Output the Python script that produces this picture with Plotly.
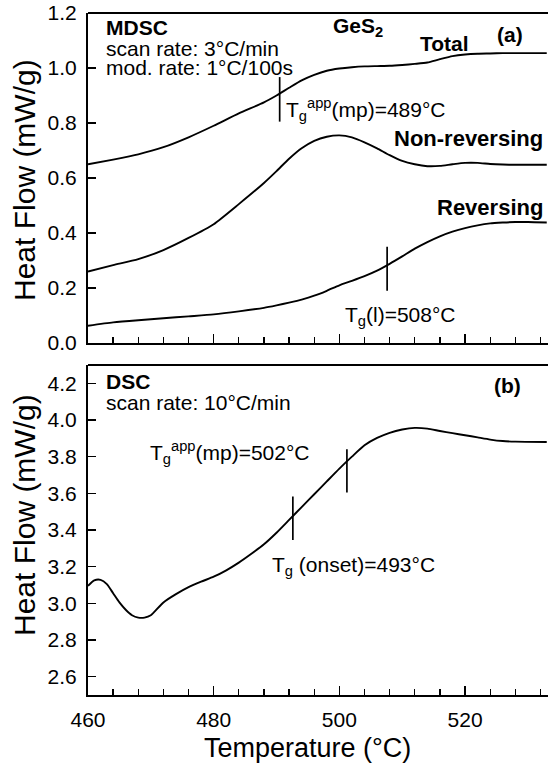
import plotly.graph_objects as go

# ---------------- data ----------------
t_top = [460, 464, 468, 472, 476, 480, 484, 488, 490, 492, 494, 496, 498, 500, 502, 504,
         506, 508, 510, 512, 514, 516, 518, 520, 522, 524, 526, 528, 530, 533]
total = [0.650, 0.667, 0.686, 0.712, 0.748, 0.790, 0.835, 0.875, 0.900, 0.928, 0.955, 0.975,
         0.990, 0.998, 1.003, 1.006, 1.007, 1.008, 1.011, 1.015, 1.020, 1.032, 1.043, 1.049,
         1.052, 1.053, 1.054, 1.054, 1.054, 1.054]
nonrev = [0.260, 0.283, 0.305, 0.338, 0.382, 0.432, 0.505, 0.582, 0.625, 0.670, 0.708, 0.735,
          0.750, 0.755, 0.748, 0.730, 0.708, 0.683, 0.662, 0.650, 0.643, 0.644, 0.650, 0.655,
          0.655, 0.651, 0.649, 0.648, 0.648, 0.648]
revers = [0.063, 0.075, 0.083, 0.090, 0.097, 0.104, 0.115, 0.128, 0.137, 0.147, 0.158, 0.172,
          0.190, 0.210, 0.226, 0.243, 0.263, 0.288, 0.315, 0.343, 0.367, 0.388, 0.405, 0.418,
          0.428, 0.435, 0.438, 0.440, 0.440, 0.438]

t_dsc = [460, 461, 462, 463, 464, 465, 466, 467, 468, 469, 470, 472, 474, 476, 478, 480, 482,
         484, 486, 488, 490, 492, 494, 496, 498, 500, 502, 504, 506, 508, 510, 512, 514, 516,
         518, 520, 522, 524, 526, 528, 533]
dsc = [3.095, 3.125, 3.128, 3.105, 3.055, 3.005, 2.965, 2.935, 2.922, 2.922, 2.935, 3.005,
       3.050, 3.088, 3.118, 3.145, 3.180, 3.222, 3.270, 3.322, 3.385, 3.455, 3.525, 3.595,
       3.665, 3.735, 3.800, 3.862, 3.902, 3.930, 3.948, 3.957, 3.953, 3.940, 3.928, 3.917,
       3.905, 3.893, 3.885, 3.882, 3.880]

# Tg marker bars: (temperature, low, high)
marks_top = [(490.5, 0.805, 0.967), (507.6, 0.190, 0.350)]
marks_bot = [(492.6, 3.345, 3.582), (501.2, 3.604, 3.840)]

x_ticks = [460, 480, 500, 520]
FONT = "Liberation Sans, Arial, Helvetica, sans-serif"
TXT = 21

fig = go.Figure()
line = dict(color="black", width=1.9, shape="spline", smoothing=0.6)
for ys in (total, nonrev, revers):
    fig.add_trace(go.Scatter(x=t_top, y=ys, mode="lines", line=line, xaxis="x", yaxis="y",
                             showlegend=False, hoverinfo="skip"))
fig.add_trace(go.Scatter(x=t_dsc, y=dsc, mode="lines", line=line, xaxis="x2", yaxis="y2",
                         showlegend=False, hoverinfo="skip"))
for (t, lo, hi) in marks_top:
    fig.add_trace(go.Scatter(x=[t, t], y=[lo, hi], mode="lines", line=dict(color="black", width=1.7),
                             xaxis="x", yaxis="y", showlegend=False, hoverinfo="skip"))
for (t, lo, hi) in marks_bot:
    fig.add_trace(go.Scatter(x=[t, t], y=[lo, hi], mode="lines", line=dict(color="black", width=1.7),
                             xaxis="x2", yaxis="y2", showlegend=False, hoverinfo="skip"))

common_x = dict(range=[460, 533.2], tickmode="array", tickvals=x_ticks, ticks="inside", ticklen=9,
                tickwidth=1.6, tickcolor="black", showline=True, linewidth=2, linecolor="black",
                mirror=False, showgrid=False, zeroline=False, ticklabelstandoff=5,
                minor=dict(dtick=4, tick0=460, ticks="inside", ticklen=6, tickwidth=1.3,
                           tickcolor="black", showgrid=False),
                tickfont=dict(family=FONT, size=TXT, color="black"))
common_y = dict(dtick=0.2, ticks="inside", ticklen=8, tickwidth=1.6, tickcolor="black",
                showline=True, linewidth=2, linecolor="black", showgrid=False, zeroline=False,
                mirror=False, tickformat=".1f", ticklabelstandoff=5, ticklabeloverflow="allow",
                tickfont=dict(family=FONT, size=TXT, color="black"))

TOP_DOM = [0.5161, 1]
BOT_DOM = [0, 0.4839]
fig.update_layout(
    width=548, height=764, margin=dict(l=88, r=0, t=13, b=69),
    paper_bgcolor="white", plot_bgcolor="white", hovermode=False,
    xaxis=dict(domain=[0, 1], anchor="y", showticklabels=False, **common_x),
    yaxis=dict(domain=TOP_DOM, range=[0, 1.2], anchor="x", tick0=0, **common_y),
    xaxis2=dict(domain=[0, 1], anchor="y2", showticklabels=True, **common_x),
    yaxis2=dict(domain=BOT_DOM, range=[2.5, 4.3], anchor="x2", tick0=2.6, **common_y),
)
# top frame line of each panel
for yd in (TOP_DOM[1], BOT_DOM[1]):
    fig.add_shape(type="line", xref="paper", yref="paper", x0=0, x1=1, y0=yd, y1=yd,
                  line=dict(color="black", width=2))

def ann(text, x, y, xr, yr, size=TXT, bold=False, xanchor="left", yanchor="middle"):
    if bold:
        text = "<b>" + text + "</b>"
    fig.add_annotation(text=text, x=x, y=y, xref=xr, yref=yr, showarrow=False,
                       xanchor=xanchor, yanchor=yanchor,
                       font=dict(family=FONT, size=size, color="black"))

# top panel texts
ann("MDSC", 462.5, 1.148, "x", "y", bold=True)
ann("scan rate: 3°C/min", 462.5, 1.072, "x", "y")
ann("mod. rate: 1°C/100s", 462.5, 1.003, "x", "y")
ann("GeS<sub>2</sub>", 503.0, 1.150, "x", "y", bold=True, xanchor="center")
ann("Total", 516.8, 1.090, "x", "y", bold=True, xanchor="center")
ann("(a)", 527.2, 1.122, "x", "y", bold=True, xanchor="center")
ann("T<sub>g</sub><sup>app</sup>(mp)=489°C", 491.2, 0.850, "x", "y")
ann("Non-reversing", 532.8, 0.744, "x", "y", size=22, bold=True, xanchor="right")
ann("Reversing", 532.8, 0.493, "x", "y", size=22, bold=True, xanchor="right")
ann("T<sub>g</sub>(l)=508°C", 500.6, 0.100, "x", "y")

# bottom panel texts
ann("DSC", 462.5, 4.21, "x2", "y2", bold=True)
ann("scan rate: 10°C/min", 462.5, 4.095, "x2", "y2")
ann("(b)", 526.8, 4.19, "x2", "y2", bold=True, xanchor="center")
ann("T<sub>g</sub><sup>app</sup>(mp)=502°C", 469.6, 3.82, "x2", "y2")
ann("T<sub>g</sub> (onset)=493°C", 489.0, 3.205, "x2", "y2")

# axis titles
for yc in ((695 - 180) / 682, (695 - 515) / 682):
    fig.add_annotation(text="Heat Flow (mW/g)", textangle=-90, x=0, xshift=-64, xref="paper",
                       y=yc, yref="paper", showarrow=False, xanchor="center",
                       yanchor="middle", font=dict(family=FONT, size=30, color="black"))
fig.add_annotation(text="Temperature (°C)", x=495.0, xref="x2", y=0, yref="paper", yshift=-53,
                   showarrow=False, xanchor="center", yanchor="middle",
                   font=dict(family=FONT, size=27, color="black"))

fig.write_html("out.html", config={"displayModeBar": False, "staticPlot": True},
               post_script=("document.body.style.margin='0px';document.body.style.padding='0px';"
                            "document.body.style.overflow='hidden';"
                            "document.documentElement.style.overflow='hidden';"))
